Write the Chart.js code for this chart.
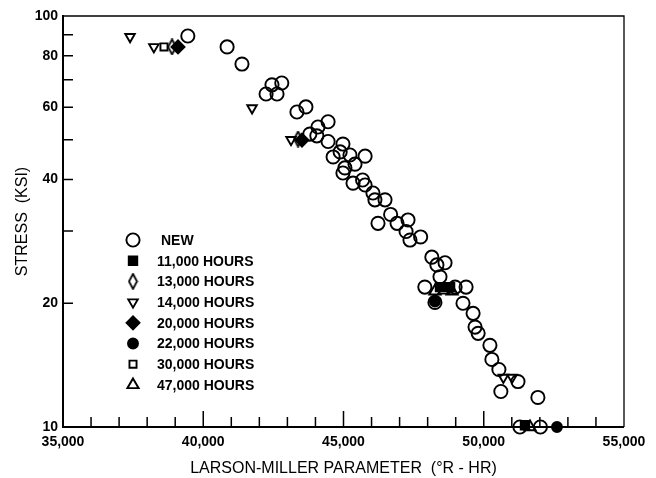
<!DOCTYPE html>
<html>
<head>
<meta charset="utf-8">
<script src="https://cdn.jsdelivr.net/npm/chart.js@4"></script>
<style>
html, body { margin: 0; padding: 0; background: #fff; }
#wrap { width: 656px; height: 478px; }
</style>
</head>
<body>
<div id="wrap"><canvas id="chart" width="656" height="478"></canvas></div>
<script>
// Werte (Larson-Miller-Parameter / Spannung in KSI)
const newX = [39450, 40850, 41380, 42450, 42800, 42240, 42630, 43340, 43660, 43800, 44050, 44090, 44450, 44450, 44980,
  44630, 44880, 45230, 45770, 45410, 45050, 44980, 45340, 45680, 45770, 46050, 46120, 46480, 46680, 47300, 46910,
  46230, 47230, 47370, 47750, 48150, 48620, 48330, 48440, 47900, 49370, 48980, 48260, 49260, 49620, 49690, 49800,
  50220, 50290, 50540, 51220, 50610, 51930, 51290, 52020];
const newY = [89.4, 84.1, 76.4, 68.0, 68.7, 64.6, 64.6, 58.4, 60.1, 51.6, 51.1, 53.7, 55.3, 49.5, 48.8,
  45.4, 46.7, 45.9, 45.6, 43.6, 42.7, 41.5, 39.2, 39.9, 38.8, 37.1, 35.7, 35.7, 32.9, 31.9, 31.3,
  31.3, 29.9, 28.5, 29.0, 25.9, 25.1, 24.8, 23.2, 21.9, 21.9, 21.9, 20.1, 20.0, 18.9, 17.5, 16.9,
  15.8, 14.6, 13.8, 12.9, 12.2, 11.8, 10, 10];
const h11X = [48440, 48800, 51470];
const h11Y = [21.9, 21.9, 10.1];
const h13X = [38886, 43380];
const h13Y = [84.1, 50.2];
const h14X = [37390, 38240, 41740, 43130, 50700, 51010];
const h14Y = [89, 84.1, 59.7, 50.0, 13.2, 13.2];
const h20X = [39100, 43520];
const h20Y = [84.1, 49.9];
const h22X = [48260, 52610];
const h22Y = [20.2, 10];
const h30X = [38600];
const h30Y = [84.1];
const h47X = [48260, 48580, 48870, 51650];
const h47Y = [21.4, 21.5, 21.4, 10];

const seriesLabels = ["NEW", "11,000 HOURS", "13,000 HOURS", "14,000 HOURS", "20,000 HOURS", "22,000 HOURS", "30,000 HOURS", "47,000 HOURS"];
const yTickValues = [10, 20, 30, 40, 50, 60, 70, 80, 90, 100];
const yTickLabels = [10, 20, 40, 60, 80, 100];
const xMin = 35000, xMax = 55000;

// schmale offene Raute (13,000 HOURS)
function makeDiamond() {
  const c = document.createElement("canvas");
  c.width = 11; c.height = 17;
  const g = c.getContext("2d");
  g.strokeStyle = "#000";
  g.lineWidth = 1.8;
  g.beginPath();
  g.moveTo(5.5, 1); g.lineTo(9.5, 8.5); g.lineTo(5.5, 16); g.lineTo(1.5, 8.5); g.closePath();
  g.stroke();
  return c;
}

function pts(xs, ys) {
  return xs.map((x, i) => ({ x: x, y: ys[i] }));
}

const open = "rgba(0,0,0,0)";
const styles = [
  { pointStyle: "circle", radius: 6.6, fill: open },
  { pointStyle: "rect", radius: 6, fill: "#000" },
  { pointStyle: makeDiamond(), radius: 7, fill: open },
  { pointStyle: "triangle", radius: 5.5, fill: open, rotation: 180 },
  { pointStyle: "rectRot", radius: 6.5, fill: "#000" },
  { pointStyle: "circle", radius: 5, fill: "#000" },
  { pointStyle: "rect", radius: 5, fill: open },
  { pointStyle: "triangle", radius: 6.5, fill: open }
];
const seriesData = [pts(newX, newY), pts(h11X, h11Y), pts(h13X, h13Y), pts(h14X, h14Y),
  pts(h20X, h20Y), pts(h22X, h22Y), pts(h30X, h30Y), pts(h47X, h47Y)];

const datasets = seriesData.map((d, i) => ({
  label: seriesLabels[i],
  data: d,
  pointStyle: styles[i].pointStyle,
  pointRadius: styles[i].radius,
  pointRotation: styles[i].rotation || 0,
  pointBackgroundColor: styles[i].fill,
  pointBorderColor: "#000",
  pointBorderWidth: 1.9,
  clip: false
}));

// Rahmen, nach innen zeigende Striche und Legende
const framePlugin = {
  id: "frame",
  afterDraw(chart) {
    const ctx = chart.ctx;
    const a = chart.chartArea;
    const xs = chart.scales.x, ys = chart.scales.y;
    ctx.save();
    ctx.strokeStyle = "#000";
    ctx.lineWidth = 1.3;
    ctx.beginPath();
    ctx.moveTo(a.left, a.top); ctx.lineTo(a.right, a.top); ctx.lineTo(a.right, a.bottom);
    ctx.stroke();
    ctx.lineWidth = 2;
    ctx.beginPath();
    ctx.moveTo(a.left, a.top - 1); ctx.lineTo(a.left, a.bottom); ctx.lineTo(a.right, a.bottom);
    ctx.stroke();
    ctx.lineWidth = 1.5;
    ctx.beginPath();
    for (let v = xMin + 1000; v < xMax; v += 1000) {
      const px = xs.getPixelForValue(v);
      const len = v % 5000 === 0 ? 16 : 10;
      ctx.moveTo(px, a.bottom); ctx.lineTo(px, a.bottom - len);
    }
    yTickValues.slice(1, -1).forEach(v => {
      const py = ys.getPixelForValue(v);
      ctx.moveTo(a.left, py); ctx.lineTo(a.left + 10, py);
    });
    ctx.stroke();

    // Legende
    ctx.font = "bold 14px 'Liberation Sans', Arial, sans-serif";
    ctx.textBaseline = "middle";
    chart.data.datasets.forEach((ds, i) => {
      const y = 240 + i * 20.7;
      ctx.lineWidth = ds.pointBorderWidth;
      ctx.strokeStyle = "#000";
      ctx.fillStyle = ds.pointBackgroundColor;
      Chart.helpers.drawPoint(ctx, {
        pointStyle: ds.pointStyle,
        rotation: ds.pointRotation,
        radius: ds.pointRadius,
        borderWidth: ds.pointBorderWidth
      }, 133, y);
      ctx.fillStyle = "#000";
      ctx.fillText(ds.label, i === 0 ? 161 : 157, y + 1);
    });
    ctx.restore();
  }
};

const tickFont = { family: "'Liberation Sans', Arial, sans-serif", size: 14, weight: "bold" };
const titleFont = { family: "'Liberation Sans', Arial, sans-serif", size: 16 };

new Chart(document.getElementById("chart").getContext("2d"), {
  type: "scatter",
  data: { datasets: datasets },
  options: {
    responsive: false,
    animation: false,
    devicePixelRatio: 1,
    layout: { padding: { left: 0, right: 32, top: 16, bottom: 0 } },
    plugins: { legend: { display: false }, tooltip: { enabled: false } },
    scales: {
      x: {
        type: "linear",
        min: xMin,
        max: xMax,
        grid: { display: false, drawTicks: false },
        border: { display: false },
        ticks: {
          stepSize: 5000,
          padding: 7,
          color: "#000",
          font: tickFont,
          callback: v => v.toLocaleString("en-US")
        },
        title: {
          display: true,
          text: "LARSON-MILLER PARAMETER  (°R - HR)",
          color: "#000",
          font: titleFont,
          padding: { top: 0, bottom: 0 }
        },
        afterFit: s => { s.height = 51; }
      },
      y: {
        type: "logarithmic",
        min: 10,
        max: 100,
        grid: { display: false, drawTicks: false },
        border: { display: false },
        afterBuildTicks: s => { s.ticks = yTickValues.map(v => ({ value: v })); },
        ticks: {
          padding: 5,
          color: "#000",
          font: tickFont,
          autoSkip: false,
          callback: v => yTickLabels.includes(v) ? String(v) : ""
        },
        title: {
          display: true,
          text: "STRESS  (KSI)",
          color: "#000",
          font: titleFont,
          padding: { top: 13, bottom: 0 }
        },
        afterFit: s => { s.width = 63; }
      }
    }
  },
  plugins: [framePlugin]
});
</script>
</body>
</html>
